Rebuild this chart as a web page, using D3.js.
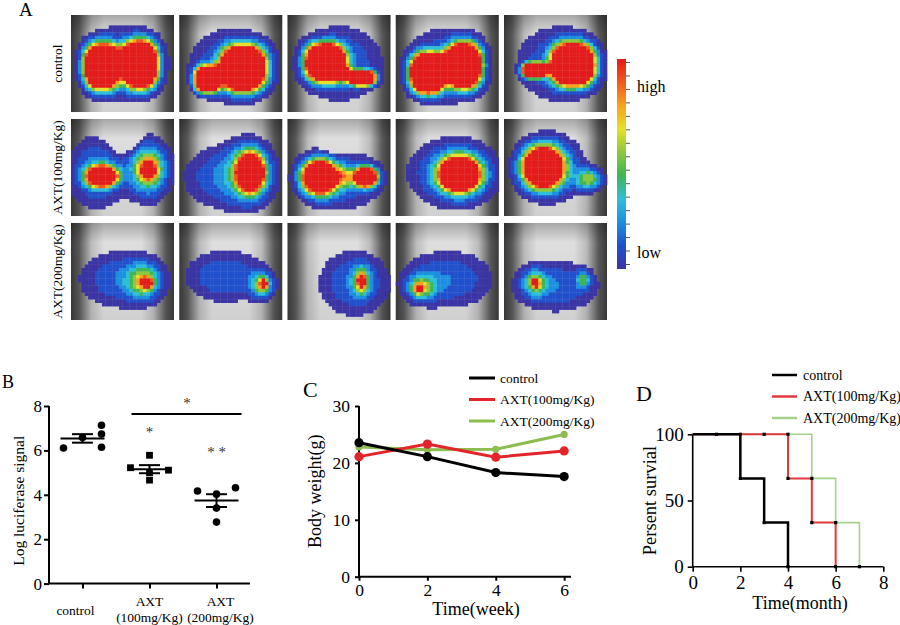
<!DOCTYPE html>
<html lang="en">
<head>
<meta charset="UTF-8"/>
<title>Bioluminescence, luciferase, body weight and survival</title>
<script src="https://cdnjs.cloudflare.com/ajax/libs/d3/7.8.5/d3.min.js"></script>
<style>
  body { margin: 0; background: #fff; }
  svg { display: block; font-family: "Liberation Serif", "Times New Roman", serif; }
</style>
</head>
<body>
<div id="chart"></div>
<script>
// ---- data ----
const rowLabels = ["control", "AXT(100mg/Kg)", "AXT(200mg/Kg)"];
// signal blobs per image [u, v, rx, ry, amplitude, power], row by row
const tileBlobs = [
  [[.30, .53, .14, .19, 3.5, 2.5], [.67, .51, .14, .20, 3.5, 2.5], [.49, .47, .08, .10, 1.5], [.50, .50, .40, .36, .25]],
  [[.27, .66, .10, .11, 3.5, 2.5], [.62, .55, .18, .19, 3.5, 2.5], [.40, .62, .06, .08, 1.5], [.52, .52, .40, .36, .25]],
  [[.37, .49, .16, .16, 3.5, 2.5], [.73, .65, .10, .065, 3.5, 2.5], [.58, .62, .06, .06, 1.2], [.50, .50, .40, .36, .25]],
  [[.31, .60, .14, .17, 3.5, 2.5], [.66, .52, .14, .19, 3.5, 2.5], [.49, .52, .08, .10, 1.5], [.50, .52, .40, .36, .25]],
  [[.29, .57, .09, .065, 3.5, 2.5], [.67, .51, .17, .18, 3.5, 2.5], [.42, .56, .06, .05, 1.2], [.55, .50, .40, .36, .25]],
  [[.25, .55, .25, .33, .30], [.75, .52, .20, .30, .30], [.50, .15, .12, .15, -.4],
   [.30, .59, .12, .085, 3], [.75, .52, .15, .20, .4], [.75, .52, .08, .10, .75]],
  [[.45, .60, .38, .30, .25], [.68, .55, .20, .28, .45], [.69, .55, .10, .15, 3]],
  [[.50, .62, .40, .30, .25], [.50, .20, .12, .12, -.5], [.31, .60, .135, .14, 3],
   [.76, .60, .09, .08, 3], [.55, .60, .10, .10, .45]],
  [[.55, .55, .42, .32, .25], [.62, .57, .22, .22, .45], [.62, .57, .15, .13, 3]],
  [[.45, .50, .32, .32, .26], [.38, .50, .16, .17, 3], [.82, .62, .12, .10, .55]],
  [[.50, .58, .40, .28, .24], [.70, .60, .14, .16, .55], [.74, .62, .05, .05, 1.2]],
  [[.45, .55, .38, .25, .24], [.80, .64, .10, .12, .55], [.82, .63, .03, .04, 1.2]],
  [[.65, .62, .33, .32, .24], [.72, .60, .08, .14, .55], [.72, .60, .03, .06, 1.2]],
  [[.50, .58, .42, .28, .24], [.25, .66, .13, .12, .5], [.22, .68, .05, .05, .6]],
  [[.50, .65, .40, .25, .24], [.30, .62, .10, .12, .5], [.31, .62, .03, .04, 1.2], [.77, .58, .06, .08, .4]]
];
const heatLevels = [0.08, 0.15, 0.24, 0.33, 0.42, 0.52, 0.62, 0.72, 0.82, 0.92];
const heatColors = ["none", "#3a34a4", "#2050cc", "#1d8fe0", "#2cc0d8", "#3fb655",
                    "#8cc83c", "#e6e028", "#f7a21e", "#f05a1c", "#e41b1b"];
const colorbarTicks = d3.range(16);

const groups = ["control", "AXT100", "AXT200"];
const groupLabels = [["control"], ["AXT", "(100mg/Kg)"], ["AXT", "(200mg/Kg)"]];
const controlSignal = [6.11, 6.58, 7.13, 6.74, 6.14];
const axt100Signal = [5.78, 5.22, 5.11, 4.66, 5.00];
const axt200Signal = [4.17, 4.03, 4.32, 3.40, 2.77];
const controlSlots = [-1, 0, 1, 1, 1];
const axt100Slots = [0, -1, 1, 0, 0];
const axt200Slots = [-1, 0, 1, 0, 0];
const signalTicks = [0, 2, 4, 6, 8];
const sigBar = {from: "AXT100", to: "AXT200", value: 7.64};
const sigStars = [
  {group: "AXT100", value: 6.98, label: "*"},
  {group: "AXT200", value: 6.08, label: "* *"}
];
const sigBarStar = 8.27;

const seriesNames = ["control", "AXT(100mg/Kg)", "AXT(200mg/Kg)"];
const weeks = [0, 2, 4, 6];
const controlWeight = [23.55, 21.1, 18.3, 17.6];
const axt100Weight = [21.1, 23.3, 21.0, 22.1];
const axt200Weight = [22.8, 22.3, 22.4, 25.0];
const weightTicks = [0, 10, 20, 30];

const controlDeath = [0, 2, 3, 4];
const axt100Death = [0, 4, 5, 6];
const axt200Death = [0, 5, 6, 7];
const survivalLevels = [100, 66.7, 33.3, 0];
const controlMarks = [[1, 100], [2, 100], [2, 66.7], [3, 33.3], [4, 0]];
const axt100Marks = [[3, 100], [4, 100], [4, 66.7], [5, 33.3], [6, 0]];
const axt200Marks = [[5, 66.7], [6, 33.3], [7, 0]];
const monthTicks = [0, 2, 4, 6, 8];
const survivalTicks = [0, 50, 100];

// ---- setup ----
const width = 900, height = 625;
const svg = d3.select("#chart").append("svg")
  .attr("width", width).attr("height", height);
const defs = svg.append("defs");

function panelLetter(txt, x, y, size) {
  svg.append("text").attr("x", x).attr("y", y)
    .attr("font-size", size).text(txt);
}

// ---- panel A: imaging grid ----
panelLetter("A", 19, 16, 19);

const tileX = d3.scaleBand().domain(d3.range(5)).range([71, 607]).paddingInner(0.0485);
const tileY = d3.scaleBand().domain(d3.range(3)).range([15, 320]).paddingInner(0.067);
const cellX = d3.scaleBand().domain(d3.range(30)).range([0, tileX.bandwidth()]);
const cellY = d3.scaleBand().domain(d3.range(28)).range([0, tileY.bandwidth()]);
const heatColor = d3.scaleThreshold().domain(heatLevels).range(heatColors);

const photo = defs.append("linearGradient").attr("id", "photo")
  .attr("x1", 0).attr("x2", 1).attr("y1", 0).attr("y2", 0);
[[0, "#3a3a3a"], [0.08, "#585858"], [0.2, "#bcbcbc"], [0.32, "#dedede"],
 [0.68, "#dedede"], [0.8, "#bcbcbc"], [0.92, "#585858"], [1, "#3a3a3a"]]
  .forEach(([o, c]) => photo.append("stop").attr("offset", o).attr("stop-color", c));
const shade = defs.append("linearGradient").attr("id", "shade")
  .attr("x1", 0).attr("x2", 0).attr("y1", 0).attr("y2", 1);
[[0, "#000", 0.25], [0.2, "#000", 0], [1, "#000", 0.06]]
  .forEach(([o, c, op]) => shade.append("stop").attr("offset", o)
    .attr("stop-color", c).attr("stop-opacity", op));

function intensity(blobs, u, v) {
  return d3.sum(blobs, b => {
    const q = b[5] || 2;
    const dx = Math.abs(u - b[0]) / b[2], dy = Math.abs(v - b[1]) / b[3];
    return b[4] * Math.exp(-(Math.pow(dx, q) + Math.pow(dy, q)));
  });
}

tileBlobs.forEach((blobs, i) => {
  const col = i % 5, row = Math.floor(i / 5);
  const g = svg.append("g")
    .attr("transform", `translate(${tileX(col)},${tileY(row)})`);
  g.append("rect").attr("width", tileX.bandwidth()).attr("height", tileY.bandwidth())
    .attr("fill", "url(#photo)");
  g.append("rect").attr("width", tileX.bandwidth()).attr("height", tileY.bandwidth())
    .attr("fill", "url(#shade)");
  const cells = [];
  cellX.domain().forEach(cx => cellY.domain().forEach(cy => {
    const u = (cx + 0.5) / 30, v = (cy + 0.5) / 28;
    const c = heatColor(intensity(blobs, u, v));
    if (c !== "none") cells.push({cx, cy, c});
  }));
  g.selectAll("rect.cell").data(cells).enter().append("rect")
    .attr("class", "cell")
    .attr("x", d => cellX(d.cx)).attr("y", d => cellY(d.cy))
    .attr("width", cellX.bandwidth() + 0.3).attr("height", cellY.bandwidth() + 0.3)
    .attr("fill", d => d.c);
});

svg.selectAll("text.rowlabel").data(rowLabels).enter().append("text")
  .attr("class", "rowlabel")
  .attr("transform", (d, i) => `translate(62,${tileY(i) + tileY.bandwidth() / 2}) rotate(-90)`)
  .attr("text-anchor", "middle").attr("font-size", 13.5).text(d => d);

// colour bar
const cbGrad = defs.append("linearGradient").attr("id", "cbar")
  .attr("x1", 0).attr("x2", 0).attr("y1", 1).attr("y2", 0);
heatColors.slice(1).forEach((c, i, arr) =>
  cbGrad.append("stop").attr("offset", i / (arr.length - 1)).attr("stop-color", c));
svg.append("rect").attr("x", 617).attr("y", 59).attr("width", 9).attr("height", 210)
  .attr("fill", "url(#cbar)");
const cbScale = d3.scaleLinear().domain([0, 15]).range([264, 62]);
const cbAxis = svg.append("g").attr("transform", "translate(626,0)")
  .call(d3.axisRight(cbScale).tickValues(colorbarTicks).tickSize(4).tickFormat(""));
cbAxis.select(".domain").remove();
cbAxis.selectAll("line").attr("stroke", "#555");
svg.append("text").attr("x", 637).attr("y", 92).attr("font-size", 16).text("high");
svg.append("text").attr("x", 637).attr("y", 258).attr("font-size", 16).text("low");

// ---- panel B: luciferase signal ----
panelLetter("B", 2, 388, 18);
const bx = d3.scalePoint().domain(groups).range([49, 250]).padding(0.5);
const by = d3.scaleLinear().domain([0, 8]).range([583.6, 406]);
const slotPx = 19;
const labelShift = [-7, 0, 4];

const bSets = [
  {group: "control", values: controlSignal, slots: controlSlots, shape: "circle"},
  {group: "AXT100", values: axt100Signal, slots: axt100Slots, shape: "square"},
  {group: "AXT200", values: axt200Signal, slots: axt200Slots, shape: "circle"}
];

const bAxisY = svg.append("g").attr("transform", "translate(49,0)")
  .call(d3.axisLeft(by).tickValues(signalTicks).tickSize(5).tickPadding(2));
const bAxisX = svg.append("g").attr("transform", "translate(0,583.6)")
  .call(d3.axisBottom(bx).tickSize(5).tickFormat(""));
[bAxisY, bAxisX].forEach(a => {
  a.select(".domain").attr("stroke-width", 2);
  a.selectAll("line").attr("stroke-width", 2);
  a.selectAll("text").attr("font-family", "Liberation Serif").attr("font-size", 17);
});
bAxisY.select(".domain").attr("d", `M0,${by(8)}V${by(0)}`);
bAxisX.select(".domain").attr("d", "M49,0H250");

svg.append("text")
  .attr("transform", `translate(24,${(by(0) + by(8)) / 2 + 6}) rotate(-90)`)
  .attr("text-anchor", "middle").attr("font-size", 15.5).text("Log luciferase signal");

groupLabels.forEach((lines, i) => {
  const x = bx(groups[i]) + labelShift[i];
  const t = svg.append("text").attr("text-anchor", "middle").attr("font-size", 13.5)
    .attr("x", x);
  if (lines.length === 1) {
    t.attr("y", 615).text(lines[0]);
  } else {
    lines.forEach((l, j) => t.append("tspan").attr("x", x)
      .attr("y", 606 + j * 16).text(l));
  }
});

bSets.forEach(s => {
  const cx = bx(s.group);
  const pts = s.values.map((v, k) => ({x: cx + s.slots[k] * slotPx, y: by(v)}));
  if (s.shape === "circle") {
    svg.selectAll(null).data(pts).enter().append("circle")
      .attr("cx", d => d.x).attr("cy", d => d.y).attr("r", 3.8).attr("fill", "#000");
  } else {
    svg.selectAll(null).data(pts).enter().append("rect")
      .attr("x", d => d.x - 3.4).attr("y", d => d.y - 3.4)
      .attr("width", 6.8).attr("height", 6.8).attr("fill", "#000");
  }
  const m = d3.mean(s.values);
  const sem = d3.deviation(s.values) / Math.sqrt(s.values.length);
  const eb = svg.append("g").attr("stroke", "#000").attr("stroke-width", 2);
  eb.append("line").attr("x1", cx - 22).attr("x2", cx + 22).attr("y1", by(m)).attr("y2", by(m));
  eb.append("line").attr("x1", cx).attr("x2", cx).attr("y1", by(m - sem)).attr("y2", by(m + sem));
  [m - sem, m + sem].forEach(v => eb.append("line")
    .attr("x1", cx - 10.5).attr("x2", cx + 10.5).attr("y1", by(v)).attr("y2", by(v)));
});

svg.append("line")
  .attr("x1", bx(sigBar.from) - 18).attr("x2", bx(sigBar.to) + 25)
  .attr("y1", by(sigBar.value)).attr("y2", by(sigBar.value))
  .attr("stroke", "#000").attr("stroke-width", 2);
svg.append("text").attr("x", (bx(sigBar.from) + bx(sigBar.to)) / 2 + 4)
  .attr("y", by(sigBarStar) + 8).attr("text-anchor", "middle")
  .attr("font-size", 15).attr("fill", "#333").text("*");
svg.selectAll("text.star").data(sigStars).enter().append("text")
  .attr("class", "star").attr("text-anchor", "middle")
  .attr("x", d => bx(d.group)).attr("y", d => by(d.value) + 8)
  .attr("font-size", 15).attr("fill", "#333").attr("xml:space", "preserve")
  .text(d => d.label);

// ---- panel C: body weight ----
panelLetter("C", 303, 397, 22);
const cx = d3.scaleLinear().domain([0, 6.2]).range([359, 571]);
const cy = d3.scaleLinear().domain([0, 30]).range([576.7, 406]);
const cColors = ["#000", "#e3242b", "#8dbd4f"];
const cSeries = [controlWeight, axt100Weight, axt200Weight];

const cAxisY = svg.append("g").attr("transform", "translate(359,0)")
  .call(d3.axisLeft(cy).tickValues(weightTicks).tickSize(4).tickPadding(5));
const cAxisX = svg.append("g").attr("transform", "translate(0,576.7)")
  .call(d3.axisBottom(cx).tickValues(weeks).tickSize(4).tickPadding(3)
    .tickFormat(d3.format("d")));
[cAxisY, cAxisX].forEach(a => {
  a.select(".domain").attr("stroke-width", 2);
  a.selectAll("line").attr("stroke-width", 2);
  a.selectAll("text").attr("font-family", "Liberation Serif").attr("font-size", 17.5);
});
cAxisY.select(".domain").attr("d", `M0,${cy(30)}V${cy(0)}`);
cAxisX.select(".domain").attr("d", `M359,0H571`);

svg.append("text")
  .attr("transform", `translate(321,${(cy(0) + cy(30)) / 2}) rotate(-90)`)
  .attr("text-anchor", "middle").attr("font-size", 18).text("Body weight(g)");
svg.append("text").attr("x", 476).attr("y", 615).attr("text-anchor", "middle")
  .attr("font-size", 18).text("Time(week)");

const cLine = d3.line().x((d, i) => cx(weeks[i])).y(d => cy(d));
[2, 1, 0].forEach(k => {
  svg.append("path").datum(cSeries[k]).attr("d", cLine)
    .attr("fill", "none").attr("stroke", cColors[k]).attr("stroke-width", 3);
  svg.selectAll(null).data(cSeries[k]).enter().append("circle")
    .attr("cx", (d, i) => cx(weeks[i])).attr("cy", d => cy(d))
    .attr("r", k === 2 ? 3.6 : 4.6).attr("fill", cColors[k]);
});

seriesNames.forEach((n, k) => {
  const y = 378 + k * 21.5;
  svg.append("line").attr("x1", 469).attr("x2", 495).attr("y1", y).attr("y2", y)
    .attr("stroke", cColors[k]).attr("stroke-width", 3);
  svg.append("text").attr("x", 500).attr("y", y + 4.5).attr("font-size", 13.5).text(n);
});

// ---- panel D: survival ----
panelLetter("D", 636, 401, 22);
const dx = d3.scaleLinear().domain([0, 8]).range([692.7, 883.3]);
const dy = d3.scaleLinear().domain([0, 100]).range([566.7, 434.3]);
const dColors = ["#000", "#e0393b", "#a3d28a"];
const dWidths = [2.5, 2, 1.6];
const dDeaths = [controlDeath, axt100Death, axt200Death];
const dMarks = [controlMarks, axt100Marks, axt200Marks];

const dAxisY = svg.append("g").attr("transform", "translate(692.7,0)")
  .call(d3.axisLeft(dy).tickValues(survivalTicks).tickSize(5).tickPadding(4));
const dAxisX = svg.append("g").attr("transform", "translate(0,566.7)")
  .call(d3.axisBottom(dx).tickValues(monthTicks).tickSize(5).tickPadding(4));
[dAxisY, dAxisX].forEach(a => {
  a.select(".domain").attr("stroke-width", 1.6);
  a.selectAll("line").attr("stroke-width", 1.6);
  a.selectAll("text").attr("font-family", "Liberation Serif").attr("font-size", 19);
});
dAxisY.select(".domain").attr("d", `M0,${dy(100)}V${dy(0)}`);
dAxisX.select(".domain").attr("d", `M692.7,0H883.3`);

svg.append("text")
  .attr("transform", `translate(656,${(dy(0) + dy(100)) / 2}) rotate(-90)`)
  .attr("text-anchor", "middle").attr("font-size", 18.5).text("Persent survial");
svg.append("text").attr("x", 800).attr("y", 609).attr("text-anchor", "middle")
  .attr("font-size", 18).text("Time(month)");

const dLine = d3.line().curve(d3.curveStepAfter)
  .x(d => dx(d)).y((d, i) => dy(survivalLevels[i]));
[2, 1, 0].forEach(k => {
  svg.append("path").datum(dDeaths[k]).attr("d", dLine)
    .attr("fill", "none").attr("stroke", dColors[k]).attr("stroke-width", dWidths[k]);
});
dMarks.forEach(ms => {
  svg.selectAll(null).data(ms).enter().append("rect")
    .attr("x", d => dx(d[0]) - 1.6).attr("y", d => dy(d[1]) - 1.6)
    .attr("width", 3.2).attr("height", 3.2).attr("fill", "#000");
});

seriesNames.forEach((n, k) => {
  const y = 375 + k * 21.5;
  svg.append("line").attr("x1", 772).attr("x2", 797).attr("y1", y).attr("y2", y)
    .attr("stroke", dColors[k]).attr("stroke-width", 2.5);
  svg.append("text").attr("x", 803).attr("y", y + 4.5).attr("font-size", 14).text(n);
});
</script>
</body>
</html>
